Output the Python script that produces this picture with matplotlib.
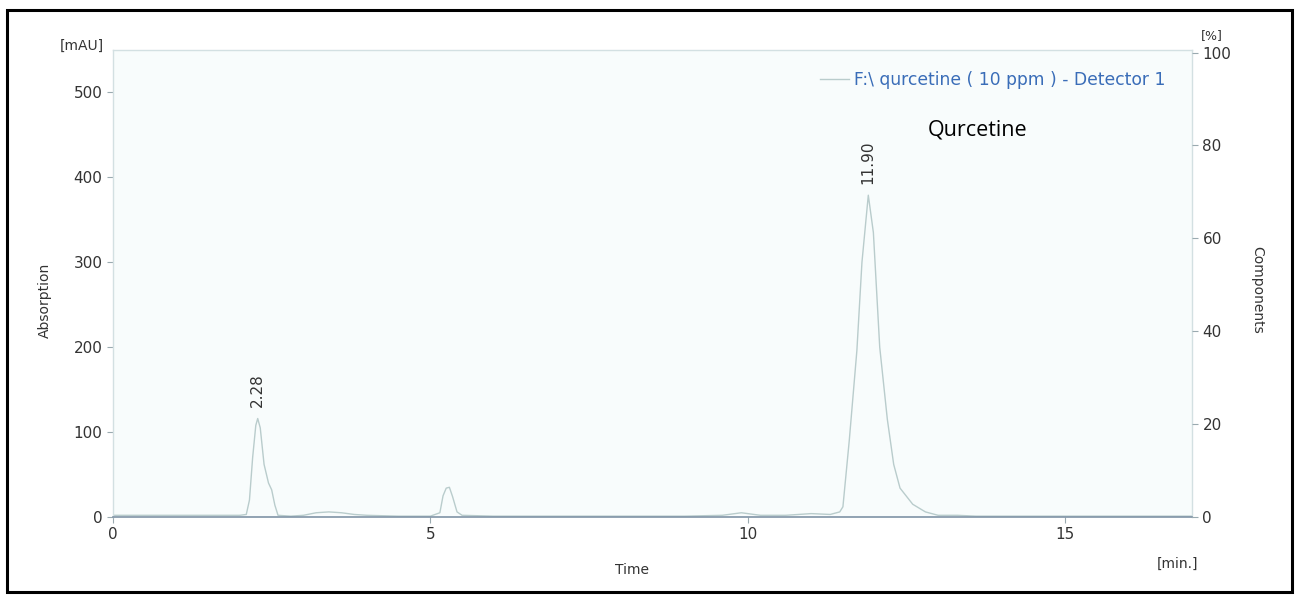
import matplotlib
matplotlib.use("Agg")
import matplotlib.pyplot as plt
from matplotlib.patches import Rectangle

# Chromatogram trace: retention time [min] and detector response [mAU]
time_min = [0.0, 0.3, 1.0, 2.0, 2.1, 2.15, 2.2, 2.25, 2.28, 2.32, 2.38, 2.45,
            2.5, 2.55, 2.6, 2.8, 3.0, 3.2, 3.4, 3.6, 3.8, 4.0, 4.5, 5.0, 5.15,
            5.2, 5.25, 5.3, 5.35, 5.42, 5.5, 6.0, 7.0, 8.0, 9.0, 9.6, 9.9, 10.2,
            10.6, 11.0, 11.3, 11.45, 11.5, 11.6, 11.72, 11.8, 11.9, 11.98,
            12.08, 12.2, 12.3, 12.4, 12.6, 12.8, 13.0, 13.3, 13.6, 14.0, 15.0,
            16.0, 17.0]
absorb_mau = [2, 2, 2, 2, 3, 20, 70, 108, 116, 105, 62, 40,
              32, 14, 2, 1, 2, 5, 6, 5, 3, 2, 1, 1, 5,
              25, 34, 35, 24, 6, 2, 1, 1, 1, 1, 2, 5, 2,
              2, 4, 3, 6, 12, 90, 196, 300, 379, 335,
              200, 115, 62, 34, 15, 6, 2, 2, 1, 1, 1,
              1, 1]

# Labelled peaks: retention time and apex height
peak_times = [2.28, 11.90]
peak_heights = [116, 379]

left_ticks = [0, 100, 200, 300, 400, 500]
right_ticks = [0, 20, 40, 60, 80, 100]
x_ticks = [0, 5, 10, 15]

W, H = 1300, 598
fig = plt.figure(figsize=(W / 100, H / 100), dpi=100)
fig.patch.set_facecolor("white")

# outer frame
fig.add_artist(Rectangle((7 / W, 1 - 592 / H), (1292 - 7) / W, (592 - 10) / H,
                         transform=fig.transFigure, fill=False,
                         edgecolor="black", linewidth=2.2))

l, r, b, t = 113 / W, 1192 / W, 1 - 517 / H, 1 - 50 / H
ax = fig.add_axes([l, b, r - l, t - b])
ax.set_facecolor("#f8fcfc")

trace_color = "#b9cccc"
ax.plot(time_min, absorb_mau, color=trace_color, linewidth=1.0,
        label="F:\\ qurcetine ( 10 ppm ) - Detector 1")

ax.set_xlim(0, 17)
ax.set_ylim(0, 550)
ax.set_xticks(x_ticks)
ax.set_yticks(left_ticks)

tick_col = "#333333"
ax.tick_params(axis="both", colors="#9aaab0", labelcolor=tick_col,
               labelsize=11, length=4, width=0.8, direction="out")
for side in ["top", "left", "right"]:
    ax.spines[side].set_color("#d3e0e2")
    ax.spines[side].set_linewidth(1.0)
ax.spines["bottom"].set_color("#7f93a6")
ax.spines["bottom"].set_linewidth(1.2)

ax2 = ax.twinx()
ax2.set_ylim(0, 100 * 550 / 547)
ax2.set_yticks(right_ticks)
ax2.tick_params(axis="y", colors="#9aaab0", labelcolor=tick_col,
                labelsize=11, length=4, width=0.8)
for side in ["top", "left", "right", "bottom"]:
    ax2.spines[side].set_visible(False)

# peak retention-time labels
for pt, ph in zip(peak_times, peak_heights):
    ax.annotate(f"{pt:.2f}", xy=(pt, ph), xytext=(0, 8),
                textcoords="offset points", rotation=90,
                ha="center", va="bottom", fontsize=11, color=tick_col)

# axis titles and units
fig.text(632 / W, 1 - 570 / H, "Time", ha="center", va="center",
         fontsize=10, color=tick_col)
fig.text(45 / W, 1 - 300 / H, "Absorption", ha="center", va="center",
         rotation=90, fontsize=10, color=tick_col)
fig.text(1257 / W, 1 - 290 / H, "Components", ha="center", va="center",
         rotation=-90, fontsize=10, color=tick_col)
fig.text(82 / W, 1 - 46 / H, "[mAU]", ha="center", va="center",
         fontsize=10, color=tick_col)
fig.text(1178 / W, 1 - 564 / H, "[min.]", ha="center", va="center",
         fontsize=10, color=tick_col)
fig.text(1212 / W, 1 - 36 / H, "[%]", ha="center", va="center",
         fontsize=9, color=tick_col)

# legend entry
leg = ax.legend(loc="upper right", frameon=False,
                handlelength=1.7, handletextpad=0.3,
                bbox_to_anchor=(0.99, 0.987), labelcolor="#3a6db8",
                prop={"family": "DejaVu Sans", "size": 12.3})

ax.text(928 / W, 1 - 130 / H, "Qurcetine", transform=fig.transFigure,
        fontsize=15.5, color="black", family="Open Sans",
        ha="left", va="center")

fig.savefig("out.png", dpi=100)
